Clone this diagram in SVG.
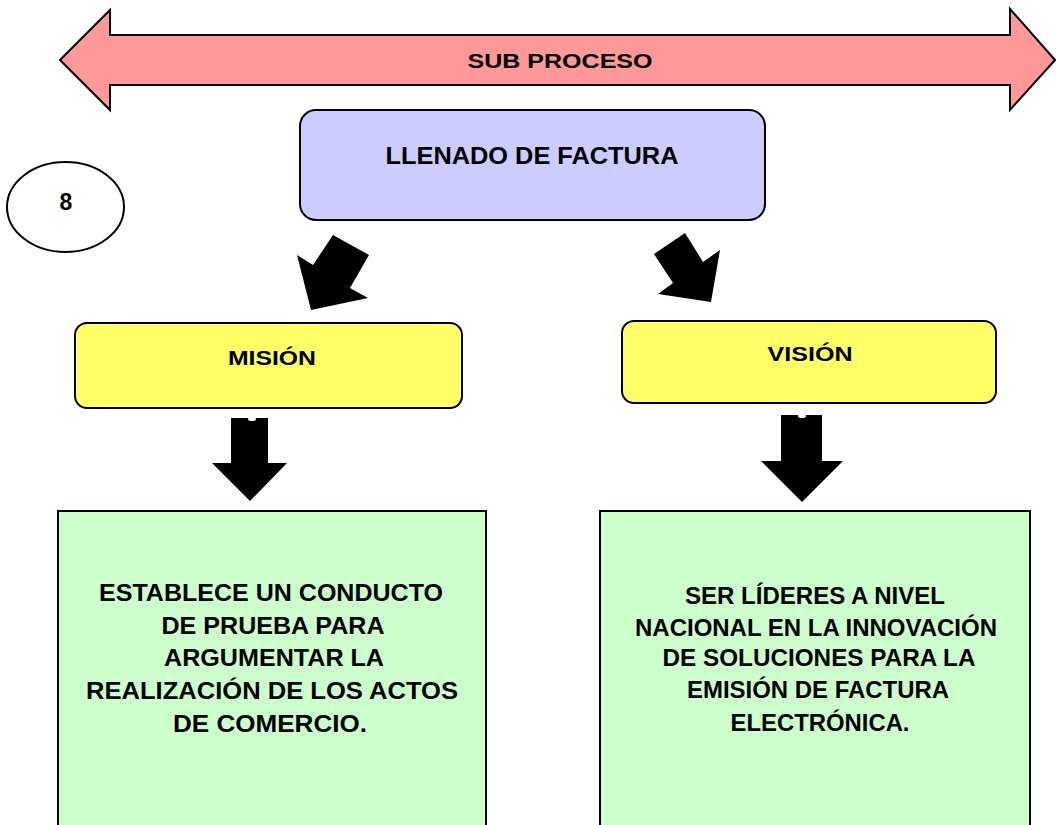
<svg xmlns="http://www.w3.org/2000/svg" width="1056" height="825" viewBox="0 0 1056 825">
<style>
text{font-family:"Liberation Sans",Arial,sans-serif;font-weight:bold;font-size:23px;fill:#000;text-anchor:middle}
.s21{font-size:21px}
.box{stroke:#000;stroke-width:2}
.arr{fill:#000}
</style>
<rect width="1056" height="825" fill="#fff"/>
<g id="subproceso">
<polygon points="60,60 110,10 110,35 1010,35 1010,9 1055,60 1010,110 1010,85 110,85 110,110" fill="#FF9999" stroke="#000" stroke-width="2"/>
<text class="s21" x="560" y="68" textLength="185" lengthAdjust="spacingAndGlyphs">SUB PROCESO</text>
</g>
<g id="llenado">
<rect class="box" x="300" y="110" width="465" height="110" rx="16" fill="#CCCCFF"/>
<text x="532" y="164" textLength="293" lengthAdjust="spacingAndGlyphs">LLENADO DE FACTURA</text>
</g>
<g id="num8">
<ellipse cx="65.5" cy="207" rx="58.5" ry="45" fill="#fff" stroke="#000" stroke-width="2"/>
<text x="66" y="210">8</text>
</g>
<g id="mision">
<rect class="box" x="75" y="323" width="387" height="85" rx="12" fill="#FFFF66"/>
<text class="s21" x="272" y="365" textLength="88" lengthAdjust="spacingAndGlyphs">MISIÓN</text>
</g>
<g id="vision">
<rect class="box" x="622" y="321" width="374" height="82" rx="12" fill="#FFFF66"/>
<text class="s21" x="810" y="361" textLength="85" lengthAdjust="spacingAndGlyphs">VISIÓN</text>
</g>
<g id="mision-texto">
<rect class="box" x="58" y="511" width="428" height="330" fill="#CCFFCC"/>
<text x="271" y="601" textLength="344" lengthAdjust="spacingAndGlyphs">ESTABLECE UN CONDUCTO</text>
<text x="273" y="634" textLength="223" lengthAdjust="spacingAndGlyphs">DE PRUEBA PARA</text>
<text x="274" y="666" textLength="220" lengthAdjust="spacingAndGlyphs">ARGUMENTAR LA</text>
<text x="272" y="699" textLength="372" lengthAdjust="spacingAndGlyphs">REALIZACIÓN DE LOS ACTOS</text>
<text x="270" y="732" textLength="194" lengthAdjust="spacingAndGlyphs">DE COMERCIO.</text>
</g>
<g id="vision-texto">
<rect class="box" x="600" y="511" width="430" height="330" fill="#CCFFCC"/>
<text x="815" y="604" textLength="260" lengthAdjust="spacingAndGlyphs">SER LÍDERES A NIVEL</text>
<text x="816" y="636" textLength="362" lengthAdjust="spacingAndGlyphs">NACIONAL EN LA INNOVACIÓN</text>
<text x="819" y="666" textLength="313" lengthAdjust="spacingAndGlyphs">DE SOLUCIONES PARA LA</text>
<text x="818" y="698" textLength="262" lengthAdjust="spacingAndGlyphs">EMISIÓN DE FACTURA</text>
<text x="820" y="731" textLength="179" lengthAdjust="spacingAndGlyphs">ELECTRÓNICA.</text>
</g>
<g id="connectors">
<polygon class="arr" points="333,235 369,255 350,288 368,298 311,310 297,255 313,265"/>
<polygon class="arr" points="685,233 703,262 720,250 711,302 658,294 673,283 654,254"/>
<polygon class="arr" points="231,418 268,418 268,463 287,463 250,501 212,463 231,463"/>
<polygon class="arr" points="781,415 822,415 822,461 843,461 802,502 761,461 781,461"/>
<ellipse cx="252" cy="419" rx="4" ry="2" fill="#fff"/>
<ellipse cx="802" cy="416" rx="4" ry="2" fill="#fff"/>
</g>
</svg>
